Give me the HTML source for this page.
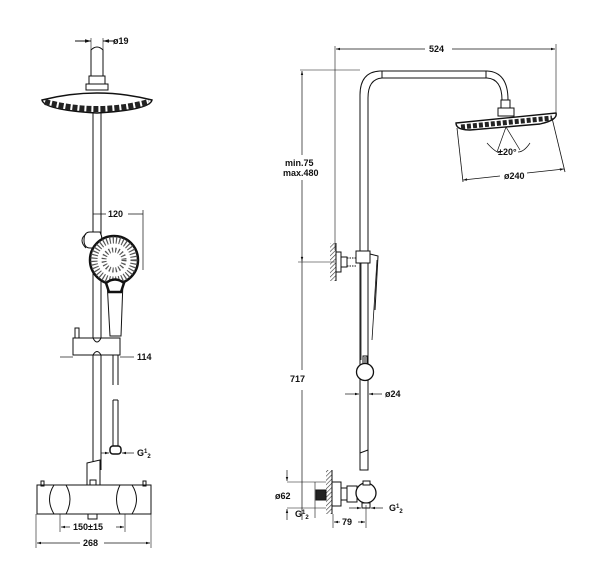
<!DOCTYPE html>
<html><head><meta charset="utf-8"><style>
html,body{margin:0;padding:0;background:#fff;}
svg{display:block;}
text{font-family:"Liberation Sans",sans-serif;font-weight:bold;font-size:9px;fill:#111;}
</style></head><body>
<svg width="600" height="581" viewBox="0 0 600 581" xmlns="http://www.w3.org/2000/svg">
<defs>
<marker id="a" viewBox="0 0 10 10" refX="10" refY="5" markerWidth="6" markerHeight="6" orient="auto-start-reverse"><path d="M0,2 L10,5 L0,8z" fill="#111"/></marker>
<pattern id="h" width="3" height="3" patternUnits="userSpaceOnUse" patternTransform="rotate(45)"><line x1="0" y1="0" x2="0" y2="3" stroke="#333" stroke-width="1.2"/></pattern>
</defs>
<g stroke="#111" stroke-width="1" fill="none">
<!-- LEFT VIEW -->
<path d="M91,85 V50 Q97,44 103,50 V85"/>
<rect x="89" y="76" width="16" height="8" fill="#fff"/>
<rect x="86" y="84" width="22" height="6" fill="#fff"/>
<path d="M42,100 Q97,86 152,100 Q150,110 97,113 Q44,110 42,100z" fill="#fff" stroke-width="1.5"/>
<path d="M45,102 Q97,116 149,102" stroke="#222" stroke-width="6" stroke-dasharray="5,2"/>
<line x1="93" y1="112" x2="93" y2="470"/><line x1="101" y1="112" x2="101" y2="470"/>
<line x1="75" y1="41" x2="91" y2="41" marker-end="url(#a)"/><line x1="115" y1="41" x2="103" y2="41" marker-end="url(#a)"/>
<line x1="91" y1="38" x2="91" y2="50" stroke-width=".6"/><line x1="103" y1="38" x2="103" y2="50" stroke-width=".6"/>
<path d="M90,232 H100 Q104,240 100,248 H90 Q84,248 84,240 Q84,232 90,232z" fill="#fff"/>
<path d="M86,234 Q78,240 86,248"/>
<path d="M107,281 L110,336 H121 L123,281z" fill="#fff"/>
<circle cx="114" cy="260" r="24" fill="#fff" stroke-width="2.5"/>
<circle cx="114" cy="260" r="20" fill="none" stroke="#555" stroke-width="7" stroke-dasharray="1.2,2"/>
<circle cx="114" cy="260" r="10" fill="none" stroke="#555" stroke-width="5" stroke-dasharray="1.2,2"/>
<path d="M106,283 Q115,276 124,283 L121,292 H109z" fill="#fff" stroke-width="2.5"/>
<line x1="93" y1="214" x2="143" y2="214" stroke-width=".7"/>
<line x1="143" y1="210" x2="143" y2="270" stroke-width=".7"/>
<rect x="106" y="208" width="22" height="10" fill="#fff" stroke="none"/>
<path d="M73,338 H120 V355 H73z" fill="#fff"/>
<path d="M93,338 Q97,346 101,338 M93,355 Q97,348 101,355"/>
<rect x="75" y="328" width="4" height="10" fill="#fff"/>
<line x1="113" y1="355" x2="113" y2="385"/><line x1="118" y1="355" x2="118" y2="385"/>
<line x1="60" y1="357" x2="73" y2="357" stroke-width=".7"/>
<line x1="120" y1="357" x2="134" y2="357" stroke-width=".7"/>
<line x1="113" y1="400" x2="113" y2="447"/><line x1="118" y1="400" x2="118" y2="447"/>
<line x1="113" y1="400" x2="118" y2="400"/>
<rect x="110" y="446" width="11" height="8" rx="3" fill="#fff" stroke-width="1.5"/>
<line x1="101" y1="453" x2="109" y2="453" stroke-width=".7" marker-end="url(#a)"/>
<line x1="134" y1="453" x2="122" y2="453" stroke-width=".7" marker-end="url(#a)"/>
<path d="M87,463 L100,460 V485 H87z" fill="#fff"/>
<rect x="90" y="480" width="6" height="5"/>
<rect x="37" y="485" width="114" height="29" fill="#fff"/>
<rect x="41" y="481" width="3" height="5"/><rect x="143" y="481" width="3" height="5"/>
<path d="M54,485 Q45,499 54,514 H66 Q74,499 66,485z" fill="#fff"/>
<path d="M120,485 Q113,499 120,514 H132 Q141,499 132,485z" fill="#fff"/>
<rect x="88" y="514" width="9" height="5"/>
<line x1="60" y1="514" x2="60" y2="532" stroke-width=".6"/><line x1="125" y1="514" x2="125" y2="532" stroke-width=".6"/>
<line x1="61" y1="527" x2="70" y2="527" stroke-width=".7" marker-start="url(#a)"/>
<line x1="116" y1="527" x2="124" y2="527" stroke-width=".7" marker-end="url(#a)"/>
<line x1="36" y1="514" x2="36" y2="548" stroke-width=".6"/><line x1="151" y1="514" x2="151" y2="548" stroke-width=".6"/>
<line x1="37" y1="543" x2="80" y2="543" stroke-width=".7" marker-start="url(#a)"/>
<line x1="104" y1="543" x2="150" y2="543" stroke-width=".7" marker-end="url(#a)"/>

<!-- RIGHT VIEW -->
<line x1="335" y1="46" x2="335" y2="250" stroke-width=".6"/>
<line x1="556" y1="44" x2="556" y2="115" stroke-width=".6"/>
<line x1="336" y1="49" x2="425" y2="49" stroke-width=".7" marker-start="url(#a)"/>
<line x1="452" y1="49" x2="555" y2="49" stroke-width=".7" marker-end="url(#a)"/>
<path d="M360,470 V95 Q360,72 380,71 H487 Q508,72 508,100"/>
<path d="M368,470 V98 Q368,79 382,78 H487 Q502,79 502,100"/>
<line x1="382" y1="71" x2="382" y2="78"/><line x1="486" y1="71" x2="486" y2="78"/>
<rect x="501" y="100" width="9" height="8" fill="#fff"/>
<rect x="498" y="108" width="16" height="8" fill="#fff"/>
<path d="M456,123 L556,113 Q558,120 540,124 L470,130 Q456,130 456,123z" fill="#fff" stroke-width="1.4"/>
<path d="M461,127 L552,118" stroke="#222" stroke-width="5" stroke-dasharray="4,2"/>
<line x1="457" y1="128" x2="463" y2="182" stroke-width=".8"/>
<line x1="552" y1="118" x2="565" y2="172" stroke-width=".8"/>
<line x1="463" y1="180" x2="500" y2="176" stroke-width=".7" marker-start="url(#a)"/>
<line x1="527" y1="173" x2="564" y2="169" stroke-width=".7" marker-end="url(#a)"/>
<line x1="506" y1="127" x2="497" y2="152" stroke-width=".7"/><line x1="506" y1="127" x2="520" y2="150" stroke-width=".7"/>
<path d="M487,143 Q495,152 500,153" stroke-width=".7"/><path d="M530,143 Q524,152 518,152" stroke-width=".7"/>
<line x1="300" y1="70" x2="360" y2="70" stroke-width=".6"/>
<line x1="302" y1="71" x2="302" y2="155" stroke-width=".7" marker-start="url(#a)"/>
<line x1="302" y1="180" x2="302" y2="370" stroke-width=".7"/>
<line x1="302" y1="390" x2="302" y2="520" stroke-width=".7"/>
<line x1="298" y1="262" x2="335" y2="262" stroke-width=".6"/>
<line x1="302" y1="256" x2="302" y2="261" stroke-width=".7" marker-end="url(#a)"/>
<rect x="330" y="243" width="6" height="38" fill="url(#h)" stroke="none"/>
<line x1="336" y1="243" x2="336" y2="281"/>
<rect x="336" y="252" width="5" height="20" fill="#fff"/>
<rect x="341" y="257" width="6" height="10" fill="#fff"/>
<path d="M347,258 L357,258 M347,266 L357,266" stroke-dasharray="1.5,1"/>
<rect x="356" y="251" width="14" height="12" fill="#fff"/>
<path d="M370,254 L378,256 L375,310" />
<path d="M361,263 V360 M377,260 L372,340" stroke-width=".8"/>
<line x1="365" y1="357" x2="365" y2="368"/><rect x="363" y="356" width="4" height="8"/>
<circle cx="365" cy="372" r="8.5" fill="#fff" stroke-width="1.3"/>
<line x1="345" y1="394" x2="359" y2="394" stroke-width=".7" marker-end="url(#a)"/>
<line x1="382" y1="394" x2="369" y2="394" stroke-width=".7" marker-end="url(#a)"/>
<path d="M360,453 L368,450 V470 H360z" fill="#fff"/>
<line x1="287" y1="482" x2="326" y2="482" stroke-width=".6"/>
<line x1="287" y1="508" x2="326" y2="508" stroke-width=".6"/>
<line x1="287" y1="470" x2="287" y2="481" stroke-width=".7" marker-end="url(#a)"/>
<line x1="287" y1="520" x2="287" y2="509" stroke-width=".7" marker-end="url(#a)"/>
<rect x="326" y="470" width="6" height="44" fill="url(#h)" stroke="none"/>
<line x1="332" y1="470" x2="332" y2="514"/>
<rect x="316" y="490" width="10" height="10" fill="#222"/>
<line x1="315" y1="482" x2="315" y2="518" stroke-width=".6"/>
<rect x="332" y="482" width="9" height="24" fill="#fff"/>
<rect x="341" y="488" width="6" height="12" fill="#fff"/>
<rect x="347" y="486" width="10" height="16" fill="#fff"/>
<circle cx="366" cy="493" r="10" fill="#fff" stroke-width="1.3"/>
<rect x="363" y="481" width="7" height="4" fill="#fff"/>
<rect x="362" y="503" width="8" height="5" fill="#fff"/>
<line x1="349" y1="508" x2="361" y2="508" stroke-width=".7" marker-end="url(#a)"/>
<line x1="383" y1="508" x2="371" y2="508" stroke-width=".7" marker-end="url(#a)"/>
<line x1="333" y1="514" x2="333" y2="528" stroke-width=".6"/><line x1="366" y1="505" x2="366" y2="528" stroke-width=".6"/>
<line x1="334" y1="522" x2="340" y2="522" stroke-width=".7" marker-start="url(#a)"/>
<line x1="358" y1="522" x2="365" y2="522" stroke-width=".7" marker-end="url(#a)"/>
</g>
<text x="113" y="44">ø19</text>
<text x="108" y="217">120</text>
<text x="137" y="360">114</text>
<text x="137" y="456">G<tspan font-size="6" dy="-3">1</tspan><tspan font-size="6" dy="5">2</tspan></text>
<text x="73" y="530">150±15</text>
<text x="83" y="546">268</text>
<text x="429" y="52">524</text>
<text x="498" y="155">±20°</text>
<text x="504" y="179">ø240</text>
<text x="285" y="166">min.75</text>
<text x="283" y="176">max.480</text>
<text x="290" y="382">717</text>
<text x="385" y="397">ø24</text>
<text x="275" y="499">ø62</text>
<text x="295" y="517">G<tspan font-size="6" dy="-3">1</tspan><tspan font-size="6" dy="5">2</tspan></text>
<text x="389" y="511">G<tspan font-size="6" dy="-3">1</tspan><tspan font-size="6" dy="5">2</tspan></text>
<text x="342" y="525">79</text>
</svg>
</body></html>
